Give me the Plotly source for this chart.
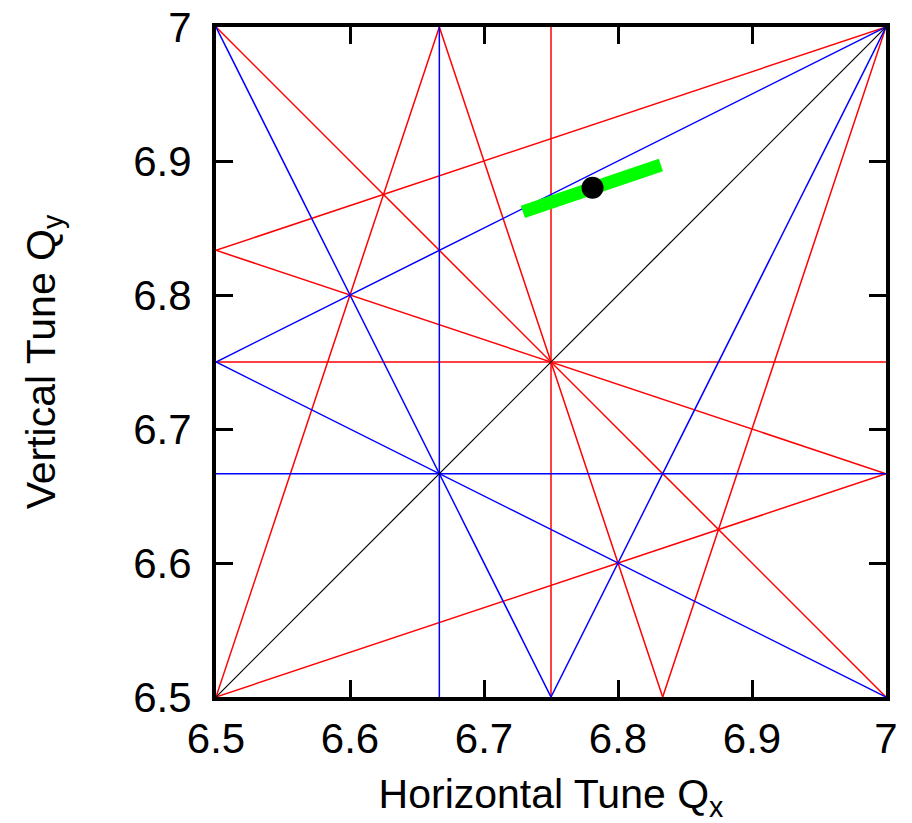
import plotly.graph_objects as go

# Resonance lines (endpoints within the tune box), grouped by colour
blue_x = [[20/3, 20/3], [6.5, 7.0], [6.5, 6.75], [6.5, 7.0], [6.5, 7.0], [6.75, 7.0]]
blue_y = [[6.5, 7.0], [20/3, 20/3], [7.0, 6.5], [6.75, 6.5], [6.75, 7.0], [6.5, 7.0]]

red_x = [[6.75, 6.75], [6.5, 7.0], [6.5, 7.0], [6.5, 20/3], [20/3, 41/6],
         [6.5, 7.0], [6.5, 7.0], [6.5, 7.0], [41/6, 7.0]]
red_y = [[6.5, 7.0], [6.75, 6.75], [7.0, 6.5], [6.5, 7.0], [7.0, 6.5],
         [6.5, 20/3], [41/6, 7.0], [41/6, 20/3], [6.5, 7.0]]

black_x = [6.5, 7.0]
black_y = [6.5, 7.0]

# Tune footprint and working point
green_x = [6.729, 6.832]
green_y = [6.862, 6.897]
point_x = [6.781]
point_y = [6.880]

tick_vals = [6.5, 6.6, 6.7, 6.8, 6.9, 7.0]
tick_text = ["6.5", "6.6", "6.7", "6.8", "6.9", "7"]


def join(segs):
    out = []
    for s in segs:
        out += list(s) + [None]
    return out


fig = go.Figure()
fig.add_trace(go.Scatter(x=join(red_x), y=join(red_y), mode="lines",
                         line=dict(color="#ff0000", width=1.5), hoverinfo="skip"))
fig.add_trace(go.Scatter(x=join(blue_x), y=join(blue_y), mode="lines",
                         line=dict(color="#0000ff", width=1.5), hoverinfo="skip"))
fig.add_trace(go.Scatter(x=black_x, y=black_y, mode="lines",
                         line=dict(color="#000000", width=1.2), hoverinfo="skip"))
fig.add_trace(go.Scatter(x=green_x, y=green_y, mode="lines",
                         line=dict(color="#00ff00", width=13)))
fig.add_trace(go.Scatter(x=point_x, y=point_y, mode="markers",
                         marker=dict(color="#000000", size=22)))

font_family = "Liberation Sans, Arial, sans-serif"
axis_common = dict(
    showgrid=False, zeroline=False, showline=True, linecolor="black", linewidth=4,
    mirror="ticks", ticks="inside", ticklen=17, tickwidth=3, tickcolor="black",
    tickvals=tick_vals, ticktext=tick_text,
    tickfont=dict(family=font_family, size=42, color="black"),
)

fig.update_layout(
    width=912, height=823,
    margin=dict(l=216, r=26, t=27, b=126, autoexpand=False),
    paper_bgcolor="white", plot_bgcolor="white",
    showlegend=False,
    font=dict(family=font_family, color="black"),
    xaxis=dict(range=[6.5, 7.0], **axis_common, ticklabelstandoff=2,
               title=dict(text="Horizontal Tune Q<sub>x</sub>",
                          font=dict(family=font_family, size=41), standoff=34)),
    yaxis=dict(range=[6.5, 7.0], **axis_common, ticklabelstandoff=12,
               title=dict(text="Vertical Tune Q<sub>y</sub>",
                          font=dict(family=font_family, size=41), standoff=66)),
)

fig.write_html("out.html")
